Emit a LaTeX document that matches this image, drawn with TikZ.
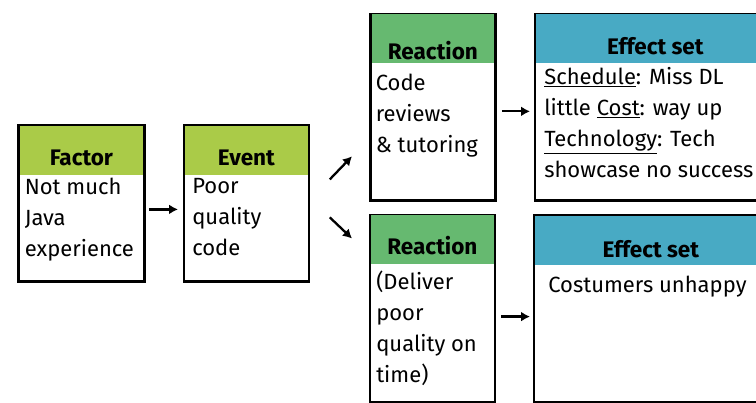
\documentclass[tikz,border=0pt]{standalone}
\usepackage{fontspec}
\setmainfont{Fira Sans}
\usetikzlibrary{positioning,arrows.meta}
\definecolor{factorgreen}{RGB}{170,203,72}
\definecolor{reactgreen}{RGB}{102,185,112}
\definecolor{effectblue}{RGB}{72,170,196}
\tikzset{
    blk/.style={draw, line width=2.8pt, anchor=north west, inner sep=0pt},
    hd/.style={anchor=north, minimum height=49pt, inner sep=0pt,
        text height=33pt, text depth=4pt, font=\fontsize{22.5}{26}\selectfont\bfseries},
    txt/.style={align=left, inner sep=0pt, font=\fontsize{22}{31}\selectfont,
        execute at begin node=\strut},
    arr/.style={-{Latex[length=9pt,width=10pt]}, line width=2.3pt},
}
\begin{document}
\begin{tikzpicture}[x=1pt, y=-1pt]
    \useasboundingbox (0,0) rectangle (756,403);
    % Factor
    \node[blk, minimum width=126pt, minimum height=156pt] (factor) at (17,124.5) {};
    \node[hd, fill=factorgreen, minimum width=123.2pt] (facthd) at ([yshift=-1.4pt]factor.north) {Factor};
    \node[txt, below right=3pt and 5pt of facthd.south west] (facttxt) {Not much\\Java\\experience};
    % Event
    \node[blk, minimum width=125pt, minimum height=156pt] (event) at (182.5,124.5) {};
    \node[hd, fill=factorgreen, minimum width=122.2pt] (evhd) at ([yshift=-1.4pt]event.north) {Event};
    \node[txt, below right=3pt and 7pt of evhd.south west] (evtxt) {Poor\\quality\\code};
    % Reactions
    \node[blk, minimum width=125pt, minimum height=186.5pt] (reacttop) at (369,12.7) {};
    \node[hd, fill=reactgreen, minimum width=122.2pt, text height=42pt, text depth=0pt] (rthd) at ([yshift=-1.4pt]reacttop.north) {Reaction};
    \node[txt, below right=10pt and 4pt of rthd.south west] (rttxt) {Code\\reviews\\\& tutoring};
    \node[blk, minimum width=125pt, minimum height=187pt] (reactbot) at (368.5,213.7) {};
    \node[hd, fill=reactgreen, minimum width=122.2pt] (rbhd) at ([yshift=-1.4pt]reactbot.north) {Reaction};
    \node[txt, below right=6pt and 5pt of rbhd.south west] (rbtxt) {(Deliver\\poor\\quality on\\time)};
    % Effect sets
    \node[blk, minimum width=241pt, minimum height=186.5pt] (effecttop) at (533.5,12.7) {};
    \node[hd, fill=effectblue, minimum width=238.2pt, text height=34pt, text depth=2pt] (ethd) at ([yshift=-1.4pt]effecttop.north) {Effect set};
    \node[txt, below right=4pt and 8pt of ethd.south west] (ettxt)
        {\underline{Schedule}: Miss DL\\little \underline{Cost}: way up\\\underline{Technology}: Tech\\showcase no success};
    \node[blk, minimum width=234pt, minimum height=186.5pt] (effectbot) at (532.5,214.5) {};
    \node[hd, fill=effectblue, minimum width=231.2pt, text height=35pt, text depth=2pt] (ebhd) at ([yshift=-1.4pt]effectbot.north) {Effect set};
    \node[txt, below right=5pt and 13pt of ebhd.south west] (ebtxt) {Costumers unhappy};
    % Arrows
    \draw[arr, shorten <=3pt, shorten >=4.5pt] ([yshift=-5.5pt]factor.east) -- ([yshift=-5.5pt]event.west);
    \draw[arr] ([xshift=19.5pt,yshift=24.5pt]event.east) -- ([xshift=-17pt,yshift=45.7pt]reacttop.south west);
    \draw[arr] ([xshift=19.5pt,yshift=-13.5pt]event.east) -- ([xshift=-16.5pt,yshift=-24.8pt]reactbot.north west);
    \draw[arr, shorten <=5pt, shorten >=3.5pt] ([yshift=-4pt]reacttop.east) -- ([yshift=-4pt]reacttop.east -| effecttop.west);
    \draw[arr, shorten <=5pt, shorten >=2.5pt] ([yshift=-8pt]reactbot.east) -- ([yshift=-8pt]reactbot.east -| effectbot.west);
\end{tikzpicture}
\end{document}
